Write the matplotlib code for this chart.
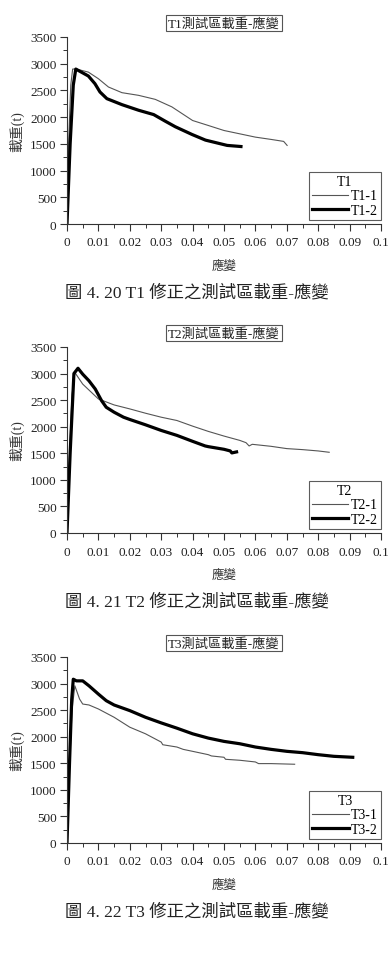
import matplotlib
matplotlib.use('Agg')
import matplotlib.pyplot as plt
from matplotlib.ticker import MultipleLocator, FuncFormatter

plt.rcParams['font.family'] = ['Liberation Serif', 'Noto Sans CJK TC']

# T1 panel data (strain, load t)
t1_1_x = [0, 0.0005, 0.0012, 0.0018, 0.003, 0.0068, 0.010, 0.0132, 0.0175, 0.0228, 0.0281,
          0.0334, 0.040, 0.045, 0.050, 0.055, 0.060, 0.065, 0.069, 0.0701]
t1_1_y = [0, 1500, 2600, 2900, 2900, 2843, 2719, 2564, 2458, 2408, 2333,
          2192, 1937, 1844, 1750, 1688, 1626, 1583, 1546, 1471]
t1_2_x = [0, 0.001, 0.002, 0.0028, 0.0068, 0.0089, 0.0105, 0.0127, 0.0175, 0.0228, 0.0276,
          0.0313, 0.0345, 0.0398, 0.0441, 0.051, 0.0554]
t1_2_y = [0, 1500, 2600, 2900, 2770, 2626, 2471, 2346, 2234, 2129, 2048,
          1924, 1820, 1676, 1570, 1471, 1450]

# T2 panel data
t2_1_x = [0, 0.0008, 0.0016, 0.0025, 0.005, 0.010, 0.015, 0.020, 0.025, 0.030, 0.035, 0.040,
          0.045, 0.050, 0.055, 0.057, 0.058, 0.059, 0.065, 0.070, 0.075, 0.080, 0.0835]
t2_1_y = [0, 1500, 2600, 3020, 2802, 2522, 2410, 2335, 2254, 2179, 2117, 2011,
          1912, 1824, 1743, 1700, 1638, 1669, 1631, 1588, 1569, 1544, 1519]
t2_2_x = [0, 0.001, 0.0022, 0.0035, 0.005, 0.007, 0.009, 0.011, 0.0125, 0.015, 0.018, 0.020,
          0.025, 0.030, 0.035, 0.040, 0.044, 0.045, 0.050, 0.052, 0.0525, 0.054]
t2_2_y = [0, 1500, 3000, 3100, 2989, 2864, 2709, 2491, 2366, 2273, 2179, 2136,
          2036, 1930, 1837, 1725, 1638, 1625, 1575, 1544, 1507, 1526]

# T3 panel data
t3_1_x = [0, 0.0008, 0.0016, 0.0025, 0.004, 0.005, 0.007, 0.010, 0.015, 0.020, 0.025, 0.030,
          0.0305, 0.035, 0.037, 0.040, 0.045, 0.046, 0.050, 0.0505, 0.055, 0.060, 0.061,
          0.065, 0.0725]
t3_1_y = [0, 1400, 2500, 2958, 2709, 2615, 2597, 2522, 2366, 2179, 2055, 1899,
          1849, 1806, 1762, 1725, 1662, 1638, 1613, 1575, 1557, 1525, 1494,
          1494, 1482]
t3_2_x = [0, 0.0008, 0.0015, 0.002, 0.003, 0.005, 0.007, 0.010, 0.0125, 0.015, 0.020, 0.025,
          0.030, 0.035, 0.040, 0.045, 0.050, 0.055, 0.060, 0.065, 0.070, 0.075, 0.080,
          0.085, 0.091]
t3_2_y = [0, 1500, 2700, 3082, 3051, 3051, 2958, 2802, 2678, 2597, 2491, 2366,
          2260, 2161, 2055, 1974, 1912, 1868, 1806, 1762, 1725, 1700, 1662,
          1631, 1613]

panels = [
    ('T1', 'T1測試區載重-應變', '圖 4. 20 T1 修正之測試區載重-應變',
     (t1_1_x, t1_1_y), (t1_2_x, t1_2_y)),
    ('T2', 'T2測試區載重-應變', '圖 4. 21 T2 修正之測試區載重-應變',
     (t2_1_x, t2_1_y), (t2_2_x, t2_2_y)),
    ('T3', 'T3測試區載重-應變', '圖 4. 22 T3 修正之測試區載重-應變',
     (t3_1_x, t3_1_y), (t3_2_x, t3_2_y)),
]

W, H = 391, 954
fig = plt.figure(figsize=(W / 100, H / 100), dpi=100)

# (top px, bottom px) of each axes
ax_px = [(38, 225), (348, 534), (658, 844)]
left_px, right_px = 67, 381

for (name, title, caption, s1, s2), (top, bot) in zip(panels, ax_px):
    ax = fig.add_axes([left_px / W, 1 - bot / H, (right_px - left_px) / W, (bot - top) / H])
    ax.plot(s1[0], s1[1], color='#555555', lw=0.8, label=f'{name}-1')
    ax.plot(s2[0], s2[1], color='black', lw=2.3, label=f'{name}-2')
    ax.set_xlim(0, 0.1)
    ax.set_ylim(0, 3500)
    ax.xaxis.set_major_locator(MultipleLocator(0.01))
    ax.xaxis.set_minor_locator(MultipleLocator(0.005))
    ax.yaxis.set_major_locator(MultipleLocator(500))
    ax.yaxis.set_minor_locator(MultipleLocator(250))
    ax.xaxis.set_major_formatter(FuncFormatter(lambda v, p: f'{v:g}'))
    ax.tick_params(which='major', direction='out', length=5, width=0.8,
                   labelsize=9.5, pad=2.5, color='#333333', labelcolor='#222222')
    ax.tick_params(axis='x', which='major', pad=4)
    ax.tick_params(which='minor', direction='out', length=3, width=0.7, color='#333333')
    for sp in ['top', 'right']:
        ax.spines[sp].set_visible(False)
    for sp in ['left', 'bottom']:
        ax.spines[sp].set_color('#333333')
        ax.spines[sp].set_linewidth(0.8)
    ax.set_xlabel('應變', fontsize=9, labelpad=8, color='#333333')
    ax.set_ylabel('載重(t)', fontsize=10, labelpad=4, color='#333333')

    leg = ax.legend(title=name, loc='lower right', bbox_to_anchor=(1.0, 0.02),
                    fontsize=10, title_fontsize=10, frameon=True, fancybox=False,
                    handlelength=2.6, handletextpad=0.15, borderpad=0.25,
                    labelspacing=0.1, borderaxespad=0)
    leg.get_frame().set_edgecolor('#333333')
    leg.get_frame().set_linewidth(0.8)

    ax.text(0.5, 1.075, title, transform=ax.transAxes, ha='center', va='center',
            fontsize=9.5, color='#222222',
            bbox=dict(boxstyle='square,pad=0.15', fc='white', ec='#555555', lw=0.8))

    fig.text(197 / W, 1 - (bot + 68) / H, caption, ha='center', va='center',
             fontsize=12.5, color='#222222')

fig.savefig('out.png', dpi=100)
